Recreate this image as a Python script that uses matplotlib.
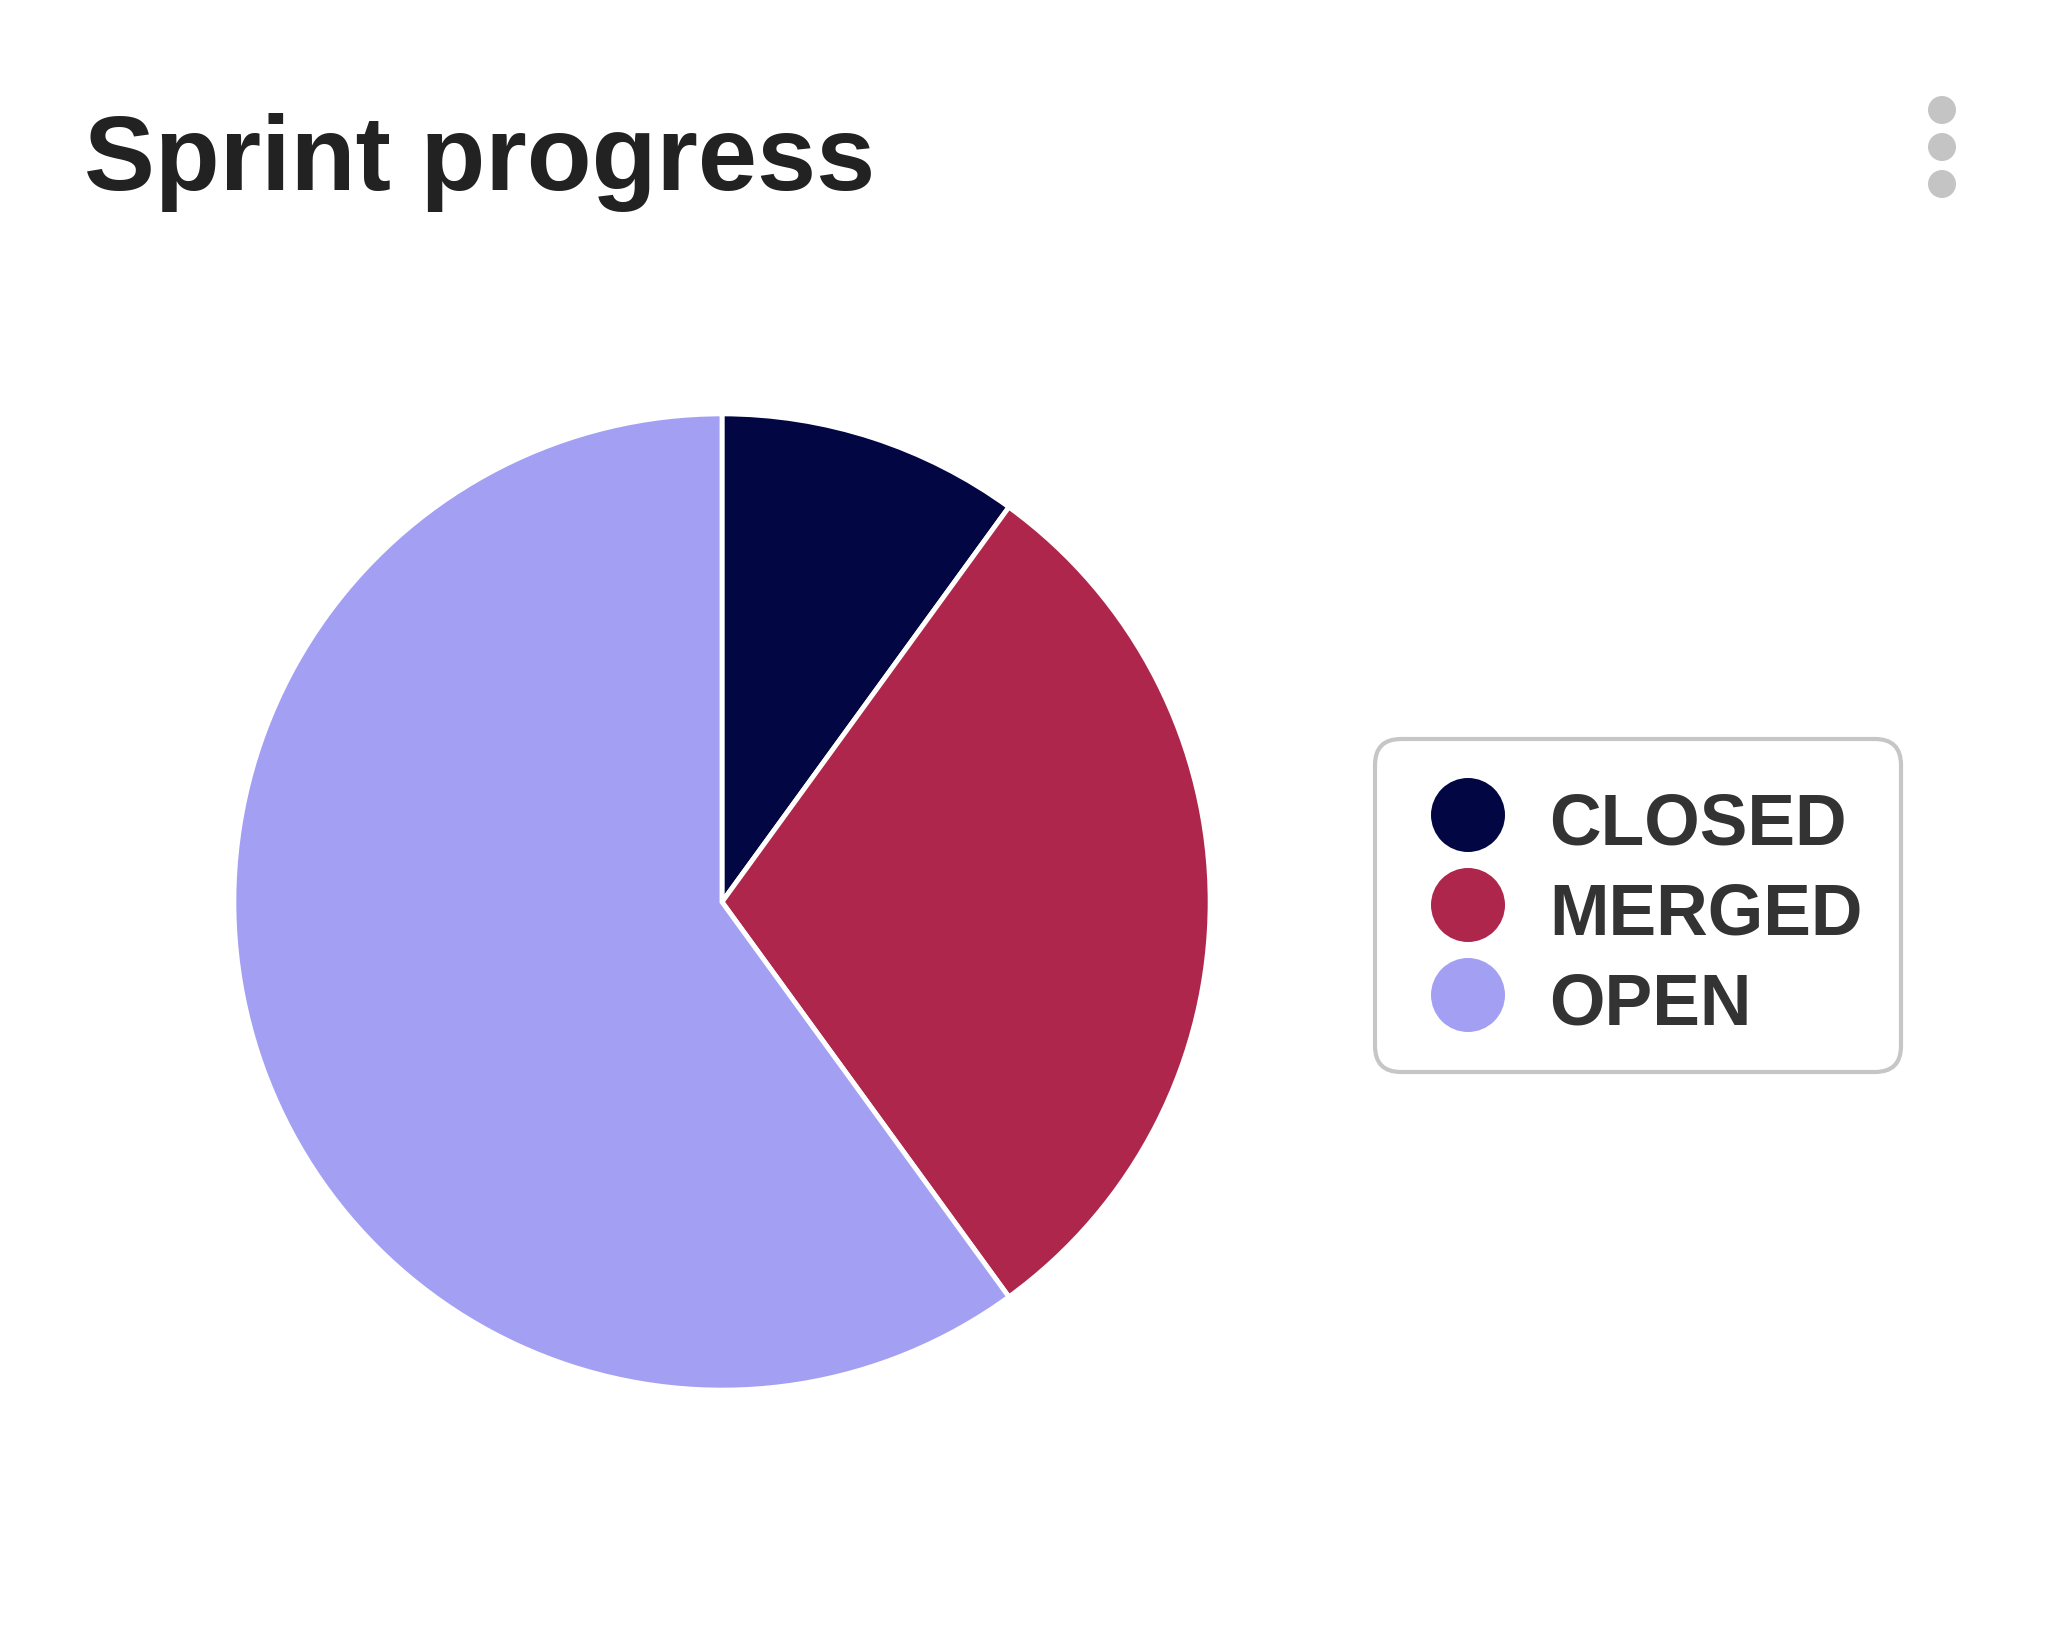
"""
Sprint progress pie chart with a boxed legend on the right.
"""

import matplotlib
matplotlib.use("Agg")
import matplotlib.pyplot as plt
from matplotlib.patches import Circle, FancyBboxPatch

plt.rcParams["font.family"] = ["Liberation Sans", "DejaVu Sans"]

# --- Data ---
TITLE = "Sprint progress"
categories = ["CLOSED", "MERGED", "OPEN"]
counts = [1, 3, 6]
colors = ["#020643", "#ae264c", "#a3a0f4"]

W, H = 2046, 1626
fig = plt.figure(figsize=(W / 100, H / 100), dpi=100)
fig.patch.set_facecolor("white")

# overlay axes in pixel coords (y down) for title, menu dots and legend
ov = fig.add_axes([0, 0, 1, 1])
ov.set_xlim(0, W)
ov.set_ylim(H, 0)
ov.axis("off")

ov.text(84, 190, TITLE, fontsize=76.5, fontweight="bold", color="#222222", va="baseline", ha="left")

# kebab menu
for cy in (110, 147, 184):
    ov.add_patch(Circle((1942, cy), 14, facecolor="#c4c4c4", edgecolor="none"))

# --- Pie ---
pie_left, pie_top, pie_size = 229, 409, 986
ax = fig.add_axes([pie_left / W, (H - pie_top - pie_size) / H, pie_size / W, pie_size / H])
ax.pie(
    counts,
    colors=colors,
    startangle=90,
    counterclock=False,
    radius=1.0,
    wedgeprops={"edgecolor": "white", "linewidth": 3.5, "joinstyle": "miter"},
)
ax.set_xlim(-1.01, 1.01)
ax.set_ylim(-1.01, 1.01)
ax.axis("off")

# --- Legend ---
box = FancyBboxPatch(
    (1375, 739), 526, 333,
    boxstyle="round,pad=0,rounding_size=26",
    facecolor="white", edgecolor="#c6c6c6", linewidth=3,
)
ov.add_patch(box)
for i, (name, col) in enumerate(zip(categories, colors)):
    cy = 815 + i * 90
    ov.add_patch(Circle((1468, cy), 37, facecolor=col, edgecolor="none"))
    ov.text(1549, cy + 29, name, fontsize=51.5, fontweight="bold", color="#333333", va="baseline", ha="left")

fig.savefig("out.png", dpi=100)
plt.close(fig)
